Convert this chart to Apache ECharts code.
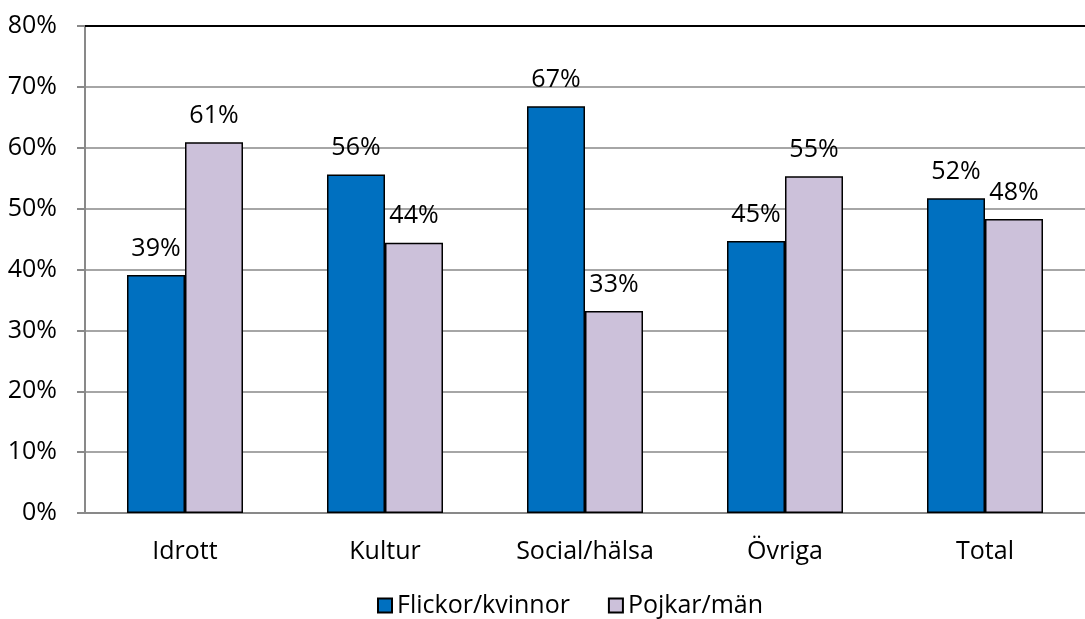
<!DOCTYPE html>
<html><head><meta charset="utf-8">
<script src="https://cdn.jsdelivr.net/npm/echarts@6/dist/echarts.min.js"></script>
<style>html,body{margin:0;padding:0;background:#fff}#c{width:1085px;height:619px}</style>
</head><body><div id="c"></div>
<script>
const categories = ['Idrott', 'Kultur', 'Social/hälsa', 'Övriga', 'Total'];
const girls = [39.1, 55.6, 66.8, 44.7, 51.7];
const boys = [60.9, 44.4, 33.2, 55.3, 48.3];
const seriesNames = ['Flickor/kvinnor', 'Pojkar/män'];
const yTicks = [0, 10, 20, 30, 40, 50, 60, 70, 80];

const FONT = '"Open Sans", sans-serif';
const FS = 25;
const chart = echarts.init(document.getElementById('c'));
const lbl = {
  show: true, position: 'top', distance: 14,
  fontFamily: FONT, fontSize: FS, color: '#000',
  formatter: p => Math.round(p.value) + '%'
};
chart.setOption({
  animation: false,
  textStyle: { fontFamily: FONT },
  grid: { left: 85, right: 0, top: 26, bottom: 106, containLabel: false },
  legend: {
    top: 588, left: 372, itemWidth: 14, itemHeight: 14, itemGap: 38,
    icon: 'rect',
    textStyle: { fontFamily: FONT, fontSize: FS, color: '#000', padding: [0, 0, 0, 0] },
    data: seriesNames
  },
  xAxis: {
    type: 'category', data: categories,
    axisLine: { lineStyle: { color: '#898989', width: 2 } },
    axisTick: { show: false },
    axisLabel: { fontFamily: FONT, fontSize: FS, color: '#000', margin: 26 }
  },
  yAxis: {
    type: 'value', min: yTicks[0], max: yTicks[yTicks.length - 1], interval: 10,
    axisLine: { show: true, lineStyle: { color: '#898989', width: 2 } },
    axisTick: { show: true, length: 8, lineStyle: { color: '#898989', width: 2 } },
    splitLine: { lineStyle: { color: '#898989', width: 1.5 } },
    axisLabel: { fontFamily: FONT, fontSize: FS, color: '#000', margin: 28, formatter: v => v + '%' }
  },
  series: [
    {
      name: seriesNames[0], type: 'bar', data: girls, barGap: '0%', barCategoryGap: '42%',
      itemStyle: { color: '#0070C0', borderColor: '#000', borderWidth: 1.5 },
      label: lbl
    },
    {
      name: seriesNames[1], type: 'bar', data: boys,
      itemStyle: { color: '#CCC1DA', borderColor: '#000', borderWidth: 1.5 },
      label: lbl,
      markLine: {
        silent: true, symbol: 'none', label: { show: false },
        lineStyle: { color: '#000', type: 'solid', width: 2 },
        data: [{ yAxis: 80 }]
      }
    }
  ]
});
</script></body></html>
